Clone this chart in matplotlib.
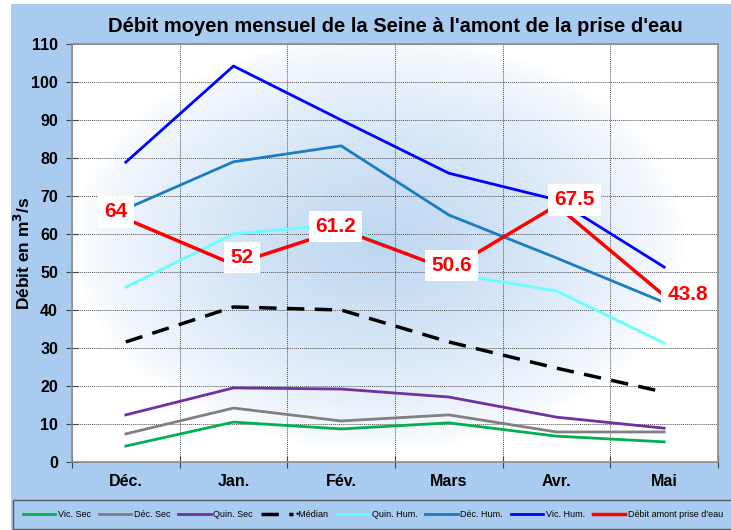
import numpy as np
import matplotlib
matplotlib.use('Agg')
import matplotlib.pyplot as plt
from matplotlib.colors import LinearSegmentedColormap

plt.rcParams['font.family'] = ['Liberation Sans', 'DejaVu Sans']

# Data
months = ["Déc.", "Jan.", "Fév.", "Mars", "Avr.", "Mai"]
vic_sec = [4.2, 10.5, 8.7, 10.3, 6.8, 5.3]
dec_sec = [7.4, 14.2, 10.8, 12.4, 7.9, 7.9]
quin_sec = [12.4, 19.5, 19.2, 17.1, 11.8, 8.9]
median = [31.6, 40.8, 40.0, 31.6, 24.7, 18.4]
quin_hum = [46.0, 60.0, 62.6, 49.7, 45.0, 31.3]
dec_hum = [66.6, 79.0, 83.2, 65.0, 53.7, 42.0]
vic_hum = [78.9, 104.2, 90.0, 76.0, 69.0, 51.3]
debit = [64, 52, 61.2, 50.6, 67.5, 43.8]

bg = '#A9CBEF'
fig = plt.figure(figsize=(7.31, 5.30), dpi=100, facecolor='white')
# blue panel behind everything
fig.patches.append(plt.Rectangle((11 / 731, 0), 1, 1 - 4 / 530, transform=fig.transFigure,
                                 facecolor=bg, edgecolor='none', zorder=-10))

ax = fig.add_axes([72 / 731, 68 / 530, 646 / 731, 418 / 530])
ax.set_facecolor('white')

# soft radial gradient in the plot area
xx, yy = np.meshgrid(np.linspace(-1, 1, 300), np.linspace(-1, 1, 200))
r = np.sqrt(((xx + 0.05) / 0.95) ** 2 + ((yy - 0.05) / 1.0) ** 2)
z = np.clip(1 - r, 0, 1) ** 0.7
cmap = LinearSegmentedColormap.from_list('grad', ['#FFFFFF', '#BED7F1'])
ax.imshow(z, extent=[-0.5, 5.5, 0, 110], aspect='auto', cmap=cmap, origin='lower',
          zorder=0, interpolation='bilinear')

x = np.arange(len(months))
series = [
    (vic_sec, '#00B050', 'Vic. Sec', '-'),
    (dec_sec, '#808080', 'Déc. Sec', '-'),
    (quin_sec, '#7030A0', 'Quin. Sec', '-'),
    (median, 'black', '•Médian', (0, (5, 3))),
    (quin_hum, '#66FFFF', 'Quin. Hum.', '-'),
    (dec_hum, '#1A7DC0', 'Déc. Hum.', '-'),
    (vic_hum, '#0000FF', 'Vic. Hum.', '-'),
]
handles = []
for vals, col, lab, ls in series:
    h, = ax.plot(x, vals, color=col, lw=2.0 if lab != '•Médian' else 2.5, ls=ls, label=lab, zorder=3)
    handles.append(h)
h, = ax.plot(x, debit, color='#FF0000', lw=2.5, label="Débit amont prise d'eau", zorder=4)
handles.append(h)

# data labels on the red series
offsets = [(-7, 5), (6, 5), (-4, 2), (2, 3), (13, 4), (17, 1)]
for xi, v, off in zip(x, debit, offsets):
    ax.annotate(f"{v:g}", (xi, v), xytext=off, textcoords='offset points',
                ha='center', va='center', color='#FF0000', fontsize=15, fontweight='bold',
                bbox=dict(boxstyle='square,pad=0.3', facecolor='white', edgecolor='none'),
                zorder=6)

ax.set_xlim(-0.5, 5.5)
ax.set_ylim(0, 110)
ax.set_yticks(np.arange(0, 111, 10))
ax.set_xticks(np.arange(-0.5, 6, 1))
ax.set_xticklabels([])
ax.set_xticks(x, minor=True)
ax.set_xticklabels(months, minor=True, fontsize=11.5, fontweight='bold')
ax.tick_params(axis='x', which='minor', length=0, pad=9)
ax.tick_params(axis='x', which='major', direction='inout', length=8, color='#404040')
ax.tick_params(axis='y', direction='inout', length=8, color='#404040', labelsize=11.5, pad=6)
for lab in ax.get_yticklabels():
    lab.set_fontweight('bold')
ax.grid(True, which='major', color='#505050', ls=(0, (1, 1)), lw=0.7, zorder=1)
ax.set_axisbelow(False)
for s in ax.spines.values():
    s.set_color('#8C8C8C')
    s.set_linewidth(1.2)
    s.set_zorder(5)

ax.set_ylabel('Débit en m$^{\\mathbf{3}}$/s', fontsize=12.5, fontweight='bold', labelpad=-1)
ax.set_title("Débit moyen mensuel de la Seine à l'amont de la prise d'eau",
             fontsize=14.5, fontweight='bold', pad=9)

leg = fig.legend(handles=handles, loc='lower left', bbox_to_anchor=(13 / 731, 1 / 530),
                 ncol=8, fontsize=6.5, frameon=True, fancybox=False, facecolor=bg,
                 edgecolor='#404040', handlelength=3.6, handletextpad=0.3,
                 columnspacing=0.85, borderpad=1.1, borderaxespad=0)
leg.get_frame().set_linewidth(1.0)

plt.savefig('out.png', dpi=100, facecolor=fig.get_facecolor())
plt.close(fig)
